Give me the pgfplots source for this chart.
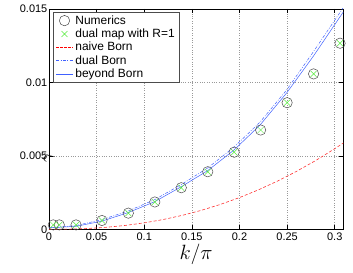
\documentclass[border=0pt]{standalone}
\usepackage{fontspec}
\setmainfont{Liberation Sans}
\usepackage{pgfplots}
\pgfplotsset{compat=1.18}
\definecolor{mblue}{rgb}{0.25,0.38,1.0}
\definecolor{mred}{rgb}{1.0,0.2,0.2}
\definecolor{mgreen}{rgb}{0.35,0.92,0.25}
\definecolor{mgray}{rgb}{0.3,0.3,0.3}
\begin{document}
\begin{tikzpicture}
\useasboundingbox (-49bp,-43.7bp) rectangle (304bp,229.3bp);
\begin{axis}[
  scale only axis, width=294.3bp, height=220.3bp,
  xmin=0, xmax=0.309, ymin=0, ymax=0.015,
  scaled y ticks=false, scaled x ticks=false,
  xtick={0,0.05,0.1,0.15,0.2,0.25,0.3},
  xticklabels={0,0.05,0.1,0.15,0.2,0.25,0.3},
  ytick={0,0.005,0.01,0.015},
  yticklabels={0,0.005,0.01,0.015},
  tick align=inside, major tick length=4bp,
  tick style={black, line width=0.5pt},
  grid=major, grid style={dotted, black!40, line width=0.5pt},
  axis line style={line width=0.6pt},
  ticklabel style={font=\fontsize{11}{13}\selectfont},
  yticklabel style={inner sep=1.5bp},
  xticklabel style={inner sep=1bp, yshift=-2bp},
  xlabel={$k/\pi$},
  xlabel style={at={(axis description cs:0.5,0)}, anchor=north, yshift=-15bp, inner sep=0pt, font=\fontsize{21}{24}\selectfont},
  ylabel={$\gamma$},
  ylabel style={at={(axis description cs:0,0.5)}, anchor=center, xshift=-39bp, inner sep=0pt, font=\fontsize{17}{20}\selectfont},
  legend cell align=left,
  legend style={at={(axis description cs:0.0126,0.988)}, anchor=north west,
    draw=black!70, line width=0.8pt, font=\fontsize{12}{14}\selectfont,
    row sep=-0.8bp, inner xsep=2.5bp, inner ysep=1.5bp, fill=white},
  clip=true,
]
\addplot[only marks, mark=o, mark size=5.2bp, draw=mgray, mark options={draw=mgray, line width=0.5pt}] coordinates {
(0.0045,0.0003) (0.0108,0.0003) (0.0284,0.0003) (0.0556,0.0006) (0.0833,0.0011)
(0.1111,0.00186) (0.1389,0.00283) (0.1667,0.00392) (0.1944,0.00525) (0.2222,0.00676)
(0.2500,0.00862) (0.2778,0.01058) (0.3056,0.01267)};
\addlegendentry{Numerics}
\addplot[only marks, mark=x, mark size=4.2bp, draw=mgreen, mark options={draw=mgreen, line width=0.5pt}] coordinates {
(0.0045,0.0003) (0.0108,0.0003) (0.0284,0.0003) (0.0556,0.0006) (0.0833,0.0011)
(0.1111,0.00186) (0.1389,0.00283) (0.1667,0.00392) (0.1944,0.00525) (0.2222,0.00676)
(0.2500,0.00862) (0.2778,0.01058) (0.3056,0.01267)};
\addlegendentry{dual map with R=1}
\addplot[forget plot, draw=mred, line width=0.6pt, dash pattern=on 3bp off 2bp, mark=none] coordinates {
(0,0) (0.02,0.0000108) (0.04,0.000053) (0.06,0.000135) (0.08,0.000262) (0.10,0.000438)
(0.12,0.000667) (0.14,0.000951) (0.16,0.001292) (0.18,0.001695) (0.20,0.002160)
(0.22,0.002690) (0.24,0.003285) (0.26,0.003949) (0.28,0.004682) (0.30,0.005486) (0.31,0.005918)};
\addlegendimage{red, line width=0.8pt, dash pattern=on 2.5bp off 1.5bp, mark=none}
\addlegendentry{naive Born}
\addplot[draw=mblue, line width=0.5pt, dash pattern=on 3bp off 1.5bp on 0.8bp off 1.5bp, mark=none] coordinates {
(0,0.0001) (0.028,0.00025) (0.0553,0.00065) (0.0833,0.00125) (0.111,0.00202) (0.1389,0.00305)
(0.1667,0.00418) (0.1943,0.0056) (0.2216,0.0073) (0.2497,0.0095) (0.2777,0.0121) (0.309,0.0151)};
\addlegendentry{dual Born}
\addplot[draw=mblue, line width=0.5pt, mark=none] coordinates {
(0,0.0001) (0.028,0.0002) (0.0553,0.00055) (0.0833,0.00114) (0.111,0.00188) (0.1389,0.0029)
(0.1667,0.0040) (0.1943,0.0054) (0.2216,0.0071) (0.2497,0.0093) (0.2777,0.0118) (0.309,0.0148)};
\addlegendentry{beyond Born}
\end{axis}
\end{tikzpicture}
\end{document}
